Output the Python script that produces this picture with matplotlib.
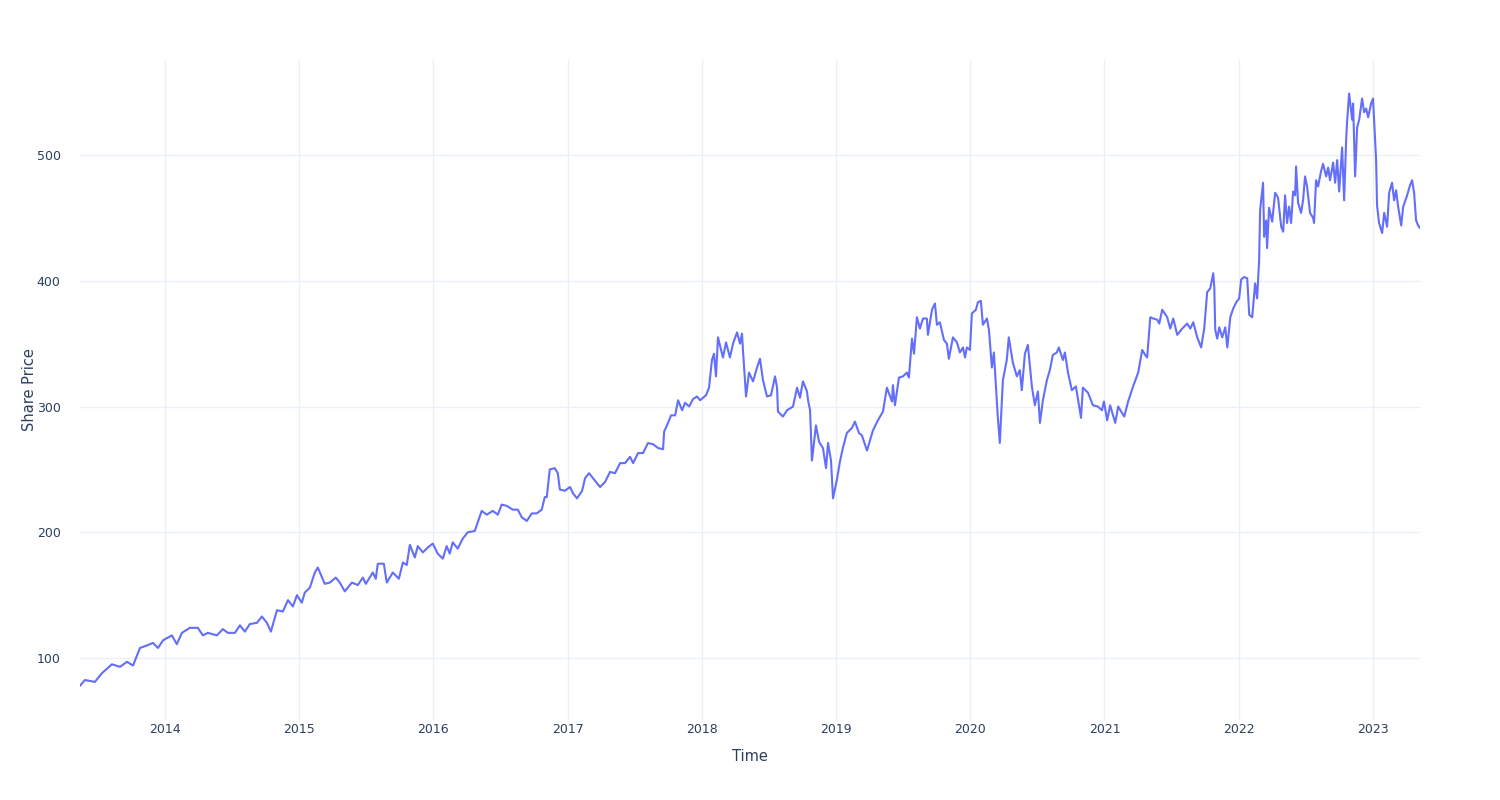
import matplotlib
matplotlib.use("Agg")
import matplotlib.pyplot as plt
import pandas as pd

# Dates as decimal years
dec_years = [
    2013.367, 2013.404, 2013.478, 2013.531, 2013.605, 2013.665, 2013.717, 2013.762, 2013.814, 2013.866,
    2013.911, 2013.948, 2013.985, 2014.052, 2014.089, 2014.127, 2014.186, 2014.246, 2014.283, 2014.320,
    2014.388, 2014.432, 2014.469, 2014.522, 2014.559, 2014.596, 2014.633, 2014.686, 2014.723, 2014.760,
    2014.790, 2014.835, 2014.879, 2014.917, 2014.954, 2014.984, 2015.021, 2015.043, 2015.081, 2015.118,
    2015.140, 2015.192, 2015.230, 2015.274, 2015.304, 2015.341, 2015.394, 2015.438, 2015.476, 2015.498,
    2015.550, 2015.572, 2015.587, 2015.632, 2015.654, 2015.699, 2015.744, 2015.774, 2015.803, 2015.826,
    2015.863, 2015.885, 2015.923, 2015.960, 2015.997, 2016.034, 2016.072, 2016.101, 2016.124, 2016.146,
    2016.183, 2016.221, 2016.258, 2016.310, 2016.362, 2016.400, 2016.444, 2016.482, 2016.511, 2016.549,
    2016.593, 2016.631, 2016.660, 2016.698, 2016.735, 2016.772, 2016.809, 2016.832, 2016.847, 2016.869,
    2016.906, 2016.929, 2016.944, 2016.981, 2017.018, 2017.040, 2017.070, 2017.108, 2017.130, 2017.160,
    2017.189, 2017.242, 2017.279, 2017.316, 2017.353, 2017.391, 2017.428, 2017.465, 2017.488, 2017.525,
    2017.562, 2017.599, 2017.637, 2017.674, 2017.711, 2017.719, 2017.748, 2017.771, 2017.801, 2017.823,
    2017.853, 2017.875, 2017.905, 2017.935, 2017.964, 2017.987, 2018.032, 2018.054, 2018.076, 2018.091,
    2018.106, 2018.121, 2018.158, 2018.181, 2018.210, 2018.233, 2018.263, 2018.285, 2018.300, 2018.307,
    2018.330, 2018.352, 2018.382, 2018.412, 2018.434, 2018.456, 2018.486, 2018.516, 2018.546, 2018.561,
    2018.568, 2018.605, 2018.635, 2018.680, 2018.710, 2018.732, 2018.754, 2018.784, 2018.792, 2018.807,
    2018.821, 2018.851, 2018.874, 2018.903, 2018.926, 2018.941, 2018.963, 2018.978, 2019.008, 2019.030,
    2019.052, 2019.082, 2019.120, 2019.142, 2019.172, 2019.194, 2019.232, 2019.276, 2019.313, 2019.351,
    2019.380, 2019.418, 2019.425, 2019.440, 2019.470, 2019.500, 2019.529, 2019.544, 2019.567, 2019.582,
    2019.604, 2019.626, 2019.649, 2019.678, 2019.686, 2019.716, 2019.738, 2019.753, 2019.775, 2019.805,
    2019.827, 2019.842, 2019.872, 2019.902, 2019.924, 2019.947, 2019.962, 2019.976, 2019.999, 2020.014,
    2020.044, 2020.059, 2020.081, 2020.096, 2020.126, 2020.141, 2020.163, 2020.178, 2020.200, 2020.207,
    2020.222, 2020.245, 2020.274, 2020.289, 2020.319, 2020.349, 2020.371, 2020.386, 2020.409, 2020.431,
    2020.461, 2020.483, 2020.506, 2020.521, 2020.543, 2020.573, 2020.595, 2020.617, 2020.647, 2020.662,
    2020.692, 2020.707, 2020.730, 2020.759, 2020.789, 2020.827, 2020.841, 2020.879, 2020.916, 2020.953,
    2020.983, 2020.998, 2021.020, 2021.042, 2021.080, 2021.102, 2021.147, 2021.176, 2021.213, 2021.251,
    2021.281, 2021.303, 2021.318, 2021.341, 2021.363, 2021.393, 2021.408, 2021.430, 2021.467, 2021.490,
    2021.512, 2021.542, 2021.579, 2021.616, 2021.639, 2021.661, 2021.691, 2021.720, 2021.743, 2021.765,
    2021.788, 2021.810, 2021.818, 2021.825, 2021.840, 2021.855, 2021.877, 2021.900, 2021.915, 2021.937,
    2021.959, 2021.982, 2022.004, 2022.019, 2022.041, 2022.064, 2022.079, 2022.101, 2022.123, 2022.138,
    2022.153, 2022.160, 2022.182, 2022.190, 2022.205, 2022.212, 2022.227, 2022.250, 2022.272, 2022.294,
    2022.317, 2022.332, 2022.346, 2022.361, 2022.376, 2022.391, 2022.406, 2022.421, 2022.428, 2022.443,
    2022.465, 2022.480, 2022.495, 2022.510, 2022.532, 2022.555, 2022.562, 2022.577, 2022.592, 2022.614,
    2022.629, 2022.652, 2022.667, 2022.681, 2022.704, 2022.719, 2022.734, 2022.749, 2022.771, 2022.786,
    2022.801, 2022.808, 2022.823, 2022.846, 2022.853, 2022.868, 2022.883, 2022.898, 2022.920, 2022.935,
    2022.950, 2022.965, 2022.987, 2023.002, 2023.010, 2023.025, 2023.032, 2023.047, 2023.070, 2023.085,
    2023.107, 2023.122, 2023.144, 2023.159, 2023.174, 2023.189, 2023.212, 2023.227, 2023.256, 2023.278,
    2023.293, 2023.308, 2023.323, 2023.338, 2023.352,
]

share_price = [
    78, 82.5, 81, 88, 95, 93, 97, 94, 108, 110,
    112, 108, 114, 118, 111, 120, 124, 124, 118, 120,
    118, 123, 120, 120, 126, 121, 127, 128, 133, 128,
    121, 138, 137, 146, 141, 150, 144, 152, 156, 168,
    172, 159, 160, 164, 160, 153, 160, 158, 164, 159,
    168, 163, 175, 175, 160, 168, 163, 176, 174, 190,
    180, 189, 184, 188, 191, 183, 179, 189, 183, 192,
    187, 195, 200, 201, 217, 214, 217, 214, 222, 221,
    218, 218, 212, 209, 215, 215, 218, 228, 228, 250,
    251, 247, 234, 233, 236, 231, 227, 233, 243, 247,
    243, 236, 240, 248, 247, 255, 255, 260, 255, 263,
    263, 271, 270, 267, 266, 280, 287, 293, 293, 305,
    297, 303, 300, 306, 308, 305, 309, 315, 337, 342,
    324, 355, 339, 351, 339, 350, 359, 350, 358, 345,
    308, 327, 320, 331, 338, 321, 308, 309, 324, 315,
    296, 292, 297, 300, 315, 307, 320, 312, 305, 297,
    257, 285, 272, 267, 251, 271, 257, 227, 242, 256,
    267, 279, 283, 288, 279, 277, 265, 281, 289, 296,
    315, 304, 317, 301, 323, 324, 327, 323, 354, 342,
    371, 362, 370, 370, 357, 377, 382, 365, 367, 353,
    350, 338, 355, 351, 343, 347, 339, 347, 345, 374,
    377, 383, 384, 365, 370, 361, 331, 343, 305, 292,
    271, 321, 337, 355, 335, 324, 329, 313, 342, 349,
    316, 301, 312, 287, 305, 321, 329, 341, 343, 347,
    337, 343, 327, 313, 316, 291, 315, 311, 301, 300,
    297, 304, 289, 301, 287, 300, 292, 304, 316, 327,
    345, 341, 339, 371, 370, 369, 366, 377, 371, 362,
    370, 357, 362, 366, 362, 367, 355, 347, 362, 391,
    394, 406, 395, 361, 354, 363, 355, 363, 347, 371,
    378, 383, 386, 401, 403, 402, 373, 371, 398, 386,
    417, 456, 478, 435, 448, 426, 458, 447, 470, 466,
    443, 439, 468, 446, 459, 446, 471, 468, 491, 462,
    454, 464, 483, 475, 454, 450, 446, 480, 475, 487,
    493, 483, 490, 480, 494, 478, 496, 471, 506, 464,
    512, 526, 549, 528, 541, 483, 522, 528, 545, 534,
    537, 530, 541, 545, 528, 496, 460, 446, 438, 454,
    443, 470, 478, 464, 472, 459, 444, 459, 468, 476,
    480, 470, 448, 444, 442,
]

year_ticks = [2014, 2015, 2016, 2017, 2018, 2019, 2020, 2021, 2022, 2023]
price_ticks = [100, 200, 300, 400, 500]


def to_datetime(y):
    base = pd.Timestamp(year=int(y), month=1, day=1)
    return base + pd.Timedelta(days=(y - int(y)) * 365.25)


dates = [to_datetime(y) for y in dec_years]

plt.rcParams['font.family'] = ['DejaVu Sans']

fig = plt.figure(figsize=(15, 8), dpi=100)
ax = fig.add_axes([80 / 1500, 80 / 800, 1340 / 1500, 660 / 800])

ax.plot(dates, share_price, color='#636EFA', linewidth=1.5, solid_joinstyle='round')

ax.set_xlim(dates[0], dates[-1])
ax.set_ylim(50.7, 575.6)

ax.set_xticks([pd.Timestamp(year=y, month=1, day=1) for y in year_ticks])
ax.set_xticklabels([str(y) for y in year_ticks])
ax.set_yticks(price_ticks)
ax.set_yticklabels([str(v) for v in price_ticks])

grid_col = '#EBF0F8'
ax.grid(True, color=grid_col, linewidth=1)
ax.set_axisbelow(True)
for s in ax.spines.values():
    s.set_visible(False)

txt_col = '#2a3f5f'
ax.tick_params(axis='both', length=0, labelsize=9, colors=txt_col)
ax.tick_params(axis='x', pad=2)
ax.tick_params(axis='y', pad=14)

ax.set_xlabel('Time', fontsize=10.5, color=txt_col, labelpad=9.5)
ax.set_ylabel('Share Price', fontsize=10.5, color=txt_col, labelpad=0)

fig.savefig('out.png', dpi=100, facecolor='white')
